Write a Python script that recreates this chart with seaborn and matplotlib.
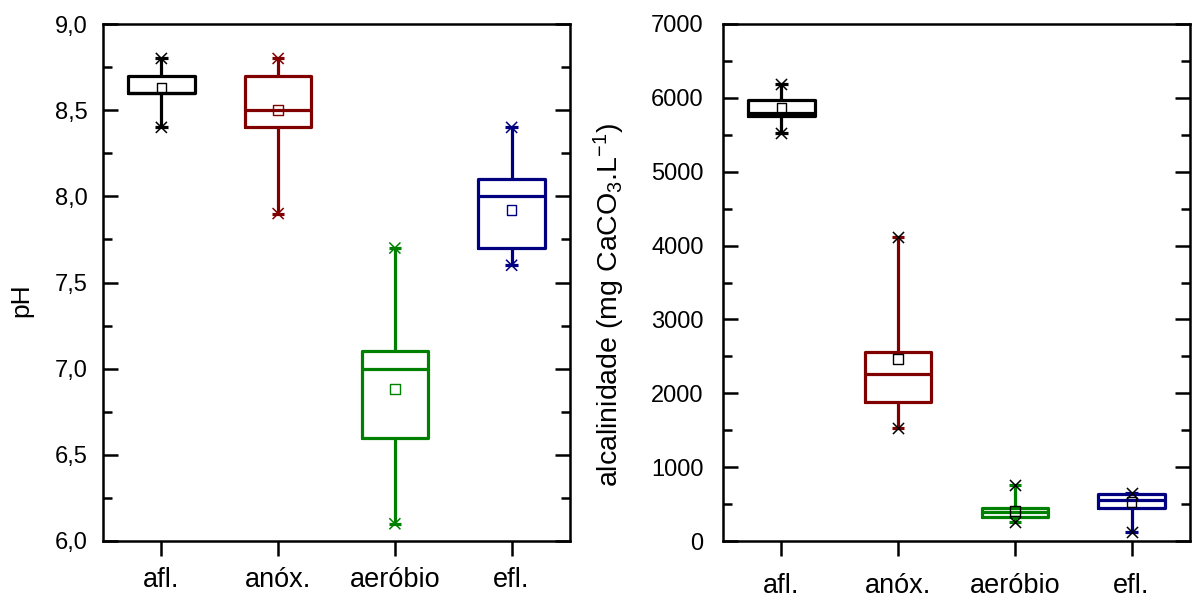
import numpy as np
import pandas as pd
import matplotlib
matplotlib.use("Agg")
import matplotlib.pyplot as plt
import seaborn as sns
from matplotlib.ticker import MultipleLocator, FuncFormatter

categories = ["afl.", "anóx.", "aeróbio", "efl."]
colors = ["#000000", "#800000", "#008000", "#000080"]

ph_min = [8.4, 7.9, 6.1, 7.6]
ph_q1 = [8.6, 8.4, 6.6, 7.7]
ph_median = [8.6, 8.5, 7.0, 8.0]
ph_q3 = [8.7, 8.7, 7.1, 8.1]
ph_max = [8.8, 8.8, 7.7, 8.4]
ph_mean = [8.63, 8.50, 6.88, 7.92]

alk_min = [5530, 1535, 257, 122]
alk_q1 = [5750, 1880, 330, 452]
alk_median = [5800, 2260, 392, 551]
alk_q3 = [5965, 2565, 452, 632]
alk_max = [6190, 4115, 758, 655]
alk_mean = [5865, 2460, 406, 528]

sns.set_style("ticks")
plt.rcParams["font.family"] = ["Liberation Sans", "DejaVu Sans"]
plt.rcParams["mathtext.fontset"] = "custom"
plt.rcParams["mathtext.rm"] = "Liberation Sans"
plt.rcParams["mathtext.it"] = "Liberation Sans:italic"
plt.rcParams["font.size"] = 17
for k in ("text.color", "axes.labelcolor", "xtick.color", "ytick.color", "axes.edgecolor"):
    plt.rcParams[k] = "black"

palette = dict(zip(categories, colors))


def long_df(mins, q1s, meds, q3s, maxs):
    rows = []
    for c, a, b, m, d, e in zip(categories, mins, q1s, meds, q3s, maxs):
        for v in (a, b, m, d, e):
            rows.append({"cat": c, "val": v})
    return pd.DataFrame(rows)


def draw(ax, mins, q1s, meds, q3s, maxs, means, colored_marks):
    df = long_df(mins, q1s, meds, q3s, maxs)
    sns.boxplot(data=df, x="cat", y="val", hue="cat", palette=palette,
                order=categories, hue_order=categories, fill=False,
                whis=(0, 100), width=0.57, linewidth=2.3, saturation=1,
                showcaps=False, legend=False, ax=ax)
    ends = pd.DataFrame({"cat": categories * 2, "val": list(mins) + list(maxs)})
    sns.stripplot(data=ends, x="cat", y="val", hue="cat", palette=palette,
                  order=categories, hue_order=categories, jitter=False,
                  marker="_", size=9, linewidth=2.3, legend=False, ax=ax)
    if colored_marks:
        sns.stripplot(data=ends, x="cat", y="val", hue="cat", palette=palette,
                      order=categories, hue_order=categories, jitter=False,
                      marker="x", size=8, linewidth=1.1, legend=False, ax=ax)
    else:
        sns.stripplot(data=ends, x="cat", y="val", color="black",
                      order=categories, jitter=False,
                      marker="x", size=8, linewidth=1.1, legend=False, ax=ax)
    mdf = pd.DataFrame({"cat": categories, "val": means})
    n1 = len(ax.collections)
    if colored_marks:
        sns.stripplot(data=mdf, x="cat", y="val", hue="cat", palette=palette,
                      order=categories, hue_order=categories, jitter=False,
                      marker="s", size=7, legend=False, ax=ax)
    else:
        sns.stripplot(data=mdf, x="cat", y="val", color="black",
                      order=categories, jitter=False,
                      marker="s", size=7, legend=False, ax=ax)
    for coll in ax.collections[n1:]:
        fc = coll.get_facecolors()
        coll.set_edgecolors(fc if colored_marks else "black")
        coll.set_facecolors("none")
        coll.set_linewidth(1.0)
    ax.set_xlim(-0.5, 3.5)
    ax.set_xlabel("")
    for s in ax.spines.values():
        s.set_visible(True)
        s.set_linewidth(1.8)
        s.set_color("black")
    ax.tick_params(axis="y", which="both", direction="in", left=True, right=True,
                   width=1.8, colors="black", labelsize=17)
    ax.tick_params(axis="y", which="major", length=11)
    ax.tick_params(axis="y", which="minor", length=6.5)
    ax.tick_params(axis="x", which="major", direction="out", bottom=True, top=False,
                   length=11, width=1.8, pad=8, labelsize=19.5)
    ax.tick_params(axis="x", which="minor", bottom=False, top=False)


fig = plt.figure(figsize=(11.92, 5.98), dpi=100)
ax1 = fig.add_axes([103 / 1192, 1 - 541 / 598, 467 / 1192, 517 / 598])
ax2 = fig.add_axes([723 / 1192, 1 - 541 / 598, 467 / 1192, 517 / 598])

draw(ax1, ph_min, ph_q1, ph_median, ph_q3, ph_max, ph_mean, True)
ax1.set_ylim(6.0, 9.0)
ax1.yaxis.set_major_locator(MultipleLocator(0.5))
ax1.yaxis.set_minor_locator(MultipleLocator(0.25))
ax1.yaxis.set_major_formatter(FuncFormatter(lambda v, p: f"{v:.1f}".replace(".", ",")))
ax1.tick_params(axis="y", which="major", pad=11)
ax1.set_ylabel("pH", fontsize=19)
ax1.yaxis.set_label_coords(-0.15, 0.466)

draw(ax2, alk_min, alk_q1, alk_median, alk_q3, alk_max, alk_mean, False)
ax2.set_ylim(0, 7000)
ax2.yaxis.set_major_locator(MultipleLocator(1000))
ax2.yaxis.set_minor_locator(MultipleLocator(500))
ax2.tick_params(axis="y", which="major", pad=14)
ax2.tick_params(axis="x", which="major", pad=12)
ax2.set_ylabel("alcalinidade (mg CaCO$_3$.L$^{\\mathregular{-1}}$)", fontsize=20.5)
ax2.yaxis.set_label_coords(-0.205, 0.456)

fig.savefig("out.png", dpi=100)
